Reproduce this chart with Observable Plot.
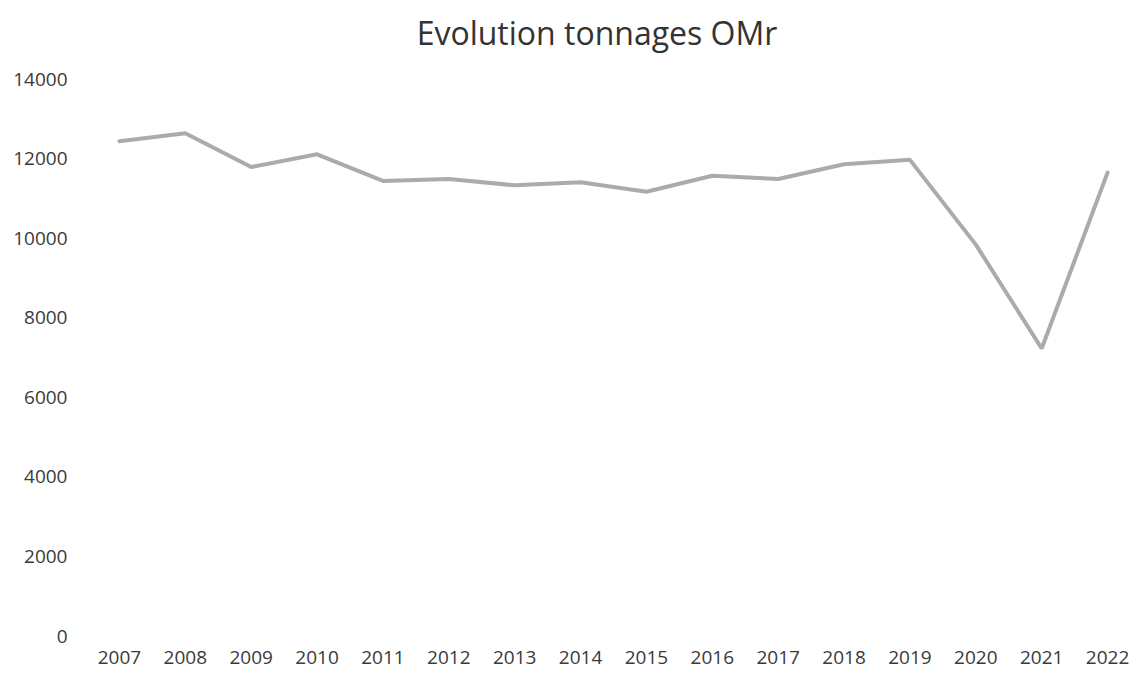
<!DOCTYPE html>
<html>
<head>
<meta charset="utf-8">
<script src="https://cdn.jsdelivr.net/npm/d3@7"></script>
<script src="https://cdn.jsdelivr.net/npm/@observablehq/plot@0.6"></script>
<style>
  body { margin: 0; background: #fff; font-family: "Open Sans", sans-serif; }
  #title { height: 55px; width: 1140px; box-sizing: border-box; padding-left: 54px; text-align: center; font-size: 32px; line-height: 66px; color: #333; }
</style>
</head>
<body>
<div id="title">Evolution tonnages OMr</div>
<div id="chart"></div>
<script>
const years = ["2007","2008","2009","2010","2011","2012","2013","2014","2015","2016","2017","2018","2019","2020","2021","2022"];
const tonnages = [12450, 12650, 11800, 12120, 11450, 11500, 11340, 11420, 11180, 11580, 11500, 11870, 11980, 9850, 7240, 11660];
const yTicks = [0, 2000, 4000, 6000, 8000, 10000, 12000, 14000];

const data = years.map((y, i) => ({year: y, value: tonnages[i]}));

const chart = Plot.plot({
  width: 1140,
  height: 620,
  marginTop: 24,
  marginBottom: 39,
  marginLeft: 86,
  marginRight: 0,
  style: {fontFamily: "Open Sans, sans-serif", fontSize: "19px", color: "#3a3a3a", background: "#fff"},
  x: {type: "point", domain: years, padding: 0.5, round: false, label: null, tickSize: 0, tickPadding: 14},
  y: {domain: [0, 14000], ticks: yTicks, tickFormat: d => String(d), label: null, tickSize: 0, tickPadding: 19},
  marks: [
    Plot.ruleY(yTicks, {stroke: "#efefef", strokeWidth: 2, x1: years[0], x2: years[years.length-1], insetLeft: -30, insetRight: -30}),
    Plot.line(data, {x: "year", y: "value", stroke: "#ababab", strokeWidth: 4, strokeLinejoin: "miter"})
  ]
});
document.getElementById("chart").appendChild(chart);
</script>
</body>
</html>
